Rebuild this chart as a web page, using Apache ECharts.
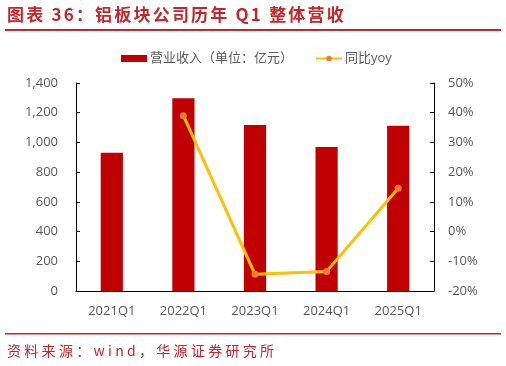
<!DOCTYPE html>
<html><head><meta charset="utf-8">
<script src="https://cdn.jsdelivr.net/npm/echarts@6/dist/echarts.min.js"></script>
<style>
html,body{margin:0;padding:0;background:#fff}
#wrap{position:relative;width:506px;height:366px;overflow:hidden}
#c{position:absolute;left:0;top:0;width:506px;height:366px}
.t{position:absolute;white-space:nowrap;color:#C0282D;font-family:"Noto Sans CJK SC",sans-serif;line-height:1}
#title{left:7px;top:5px;font-size:17px;font-weight:bold;letter-spacing:2.2px}
#source{left:7px;top:343px;font-size:14px;letter-spacing:3.3px}
</style>
</head><body><div id="wrap"><div id="c"></div>
<div class="t" id="title">图表 36：铝板块公司历年 Q1 整体营收</div>
<div class="t" id="source">资料来源：wind，华源证券研究所</div>
</div>
<script>
const categories = ['2021Q1','2022Q1','2023Q1','2024Q1','2025Q1'];
const revenue = [931, 1297, 1117, 969, 1112];
const yoy = [null, 39.0, -14.4, -13.4, 14.6];
const leftTicks = [0, 200, 400, 600, 800, 1000, 1200, 1400];
const rightTicks = [-20, -10, 0, 10, 20, 30, 40, 50];

const chart = echarts.init(document.getElementById('c'), null, {renderer:'canvas'});
const fmtComma = v => String(v).replace(/\B(?=(\d{3})+(?!\d))/g, ',');
const font = '"Open Sans","Noto Sans CJK SC",sans-serif';
chart.setOption({
  animation: false,
  textStyle: {fontFamily: font},
  graphic: [
    {type:'rect', shape:{x:5, y:29, width:496, height:2}, style:{fill:'#C0282D'}},
    {type:'rect', shape:{x:5, y:333, width:496, height:1.5}, style:{fill:'#C0282D'}}
  ],
  legend: {
    top: 47, left: 116,
    itemGap: 22,
    itemWidth: 26, itemHeight: 7,
    textStyle: {color: '#595959', fontSize: 13, fontFamily: font, padding: [0,0,0,-2]},
    data: [
      {name: '营业收入（单位：亿元）', icon: 'rect'},
      {name: '同比yoy'}
    ]
  },
  grid: {left: 76, right: 72, top: 83, bottom: 75},
  xAxis: {
    type: 'category', data: categories,
    axisLine: {lineStyle: {color: '#000', width: 1}},
    axisTick: {inside: true, alignWithLabel: true, length: 4, lineStyle: {color: '#000'}},
    axisLabel: {color: '#595959', fontSize: 13, margin: 14}
  },
  yAxis: [{
    type: 'value', min: leftTicks[0], max: leftTicks[leftTicks.length-1], interval: 200,
    axisLine: {show: true, lineStyle: {color: '#000'}},
    axisTick: {show: true, inside: true, length: 4, lineStyle: {color: '#000'}},
    splitLine: {show: false},
    axisLabel: {color: '#595959', fontSize: 13, margin: 18, formatter: v => fmtComma(v)}
  },{
    type: 'value', min: rightTicks[0], max: rightTicks[rightTicks.length-1], interval: 10,
    axisLine: {show: true, lineStyle: {color: '#000'}},
    axisTick: {show: true, inside: true, length: 4, lineStyle: {color: '#000'}},
    splitLine: {show: false},
    axisLabel: {color: '#595959', fontSize: 13, margin: 14, formatter: v => v + '%'}
  }],
  series: [{
    name: '营业收入（单位：亿元）', type: 'bar', data: revenue,
    barWidth: '31%', itemStyle: {color: '#C00000'}
  },{
    name: '同比yoy', type: 'line', yAxisIndex: 1, data: yoy,
    symbol: 'circle', symbolSize: 7,
    lineStyle: {color: '#FFC000', width: 3},
    itemStyle: {color: '#ED7D31'}
  }]
});
</script></body></html>
